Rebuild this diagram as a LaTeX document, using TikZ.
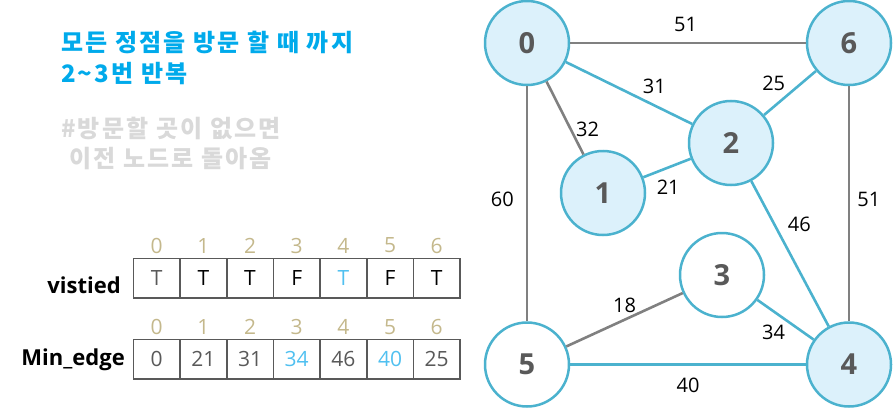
\documentclass[tikz,border=0pt]{standalone}
\usepackage{fontspec}
\setmainfont{Open Sans}
\newfontfamily\kr{Noto Sans CJK KR}[LetterSpace=9]
\usetikzlibrary{positioning}
\usepackage{xcolor}
\definecolor{ringblue}{RGB}{75,178,206}
\definecolor{fillblue}{RGB}{220,241,251}
\definecolor{edgegray}{RGB}{128,128,128}
\definecolor{numgray}{RGB}{89,89,89}
\definecolor{titleblue}{RGB}{0,170,235}
\definecolor{notegray}{RGB}{217,217,217}
\definecolor{idxtan}{RGB}{196,184,140}
\definecolor{hiblue}{RGB}{80,192,240}

\begin{document}
\begin{tikzpicture}[x=1pt,y=-1pt,
  vtx/.style={circle,draw=ringblue,line width=2.5pt,minimum size=84pt,inner sep=0pt,
    font=\fontsize{29}{29}\selectfont\bfseries,text=numgray},
  done/.style={vtx,fill=fillblue},
  todo/.style={vtx,fill=white},
  grayedge/.style={draw=edgegray,line width=2.6pt},
  blueedge/.style={draw=ringblue,line width=2.6pt},
  wt/.style={font=\fontsize{20}{20}\selectfont,inner sep=2pt,text=black},
  cell/.style={draw=numgray,line width=1.6pt,minimum width=46.67pt,minimum height=39.4pt,
    inner sep=0pt,font=\fontsize{21}{21}\selectfont},
  idx/.style={font=\fontsize{21}{21}\selectfont,text=idxtan},
  rowname/.style={font=\fontsize{22}{22}\selectfont\bfseries,inner sep=0pt,anchor=base east}]
\useasboundingbox (0,0) rectangle (896,412);

% notes
\node[anchor=north west,inner sep=0pt,align=left,text=titleblue,
  font=\kr\bfseries\fontsize{24}{31}\selectfont] (goal) at (61,31)
  {모든 정점을 방문 할 때 까지\\2\textasciitilde3번 반복};
\node[anchor=north west,inner sep=0pt,align=left,text=notegray,
  font=\kr\bfseries\fontsize{24}{30}\selectfont] (back) at (61,117)
  {\#방문할 곳이 없으면\\\hspace{8pt}이전 노드로 돌아옴};

% arrays
\foreach \i/\v/\c in {0/T/numgray,1/T/black,2/T/black,3/F/black,4/T/hiblue,5/F/black,6/T/black}{
  \node[cell,text=\c] (v\i) at (156.7+46.67*\i,278) {\v};
  \node[idx] (vi\i) at ([yshift=32.4pt]v\i.center) {\i};
}
\foreach \i/\v/\c in {0/0/numgray,1/21/numgray,2/31/numgray,3/34/hiblue,4/46/numgray,5/40/hiblue,6/25/numgray}{
  \node[cell,text=\c] (m\i) at (156.7+46.67*\i,359.2) {\v};
  \node[idx] (mi\i) at ([yshift=32.4pt]m\i.center) {\i};
}
\node[rowname] (vname) at (121,293) {vistied};
\node[rowname] (mname) at (125,365) {Min\_edge};

% graph
\node[done] (n0) at (527,43) {0};
\node[done] (n6) at (849,43) {6};
\node[done] (n2) at (731,143) {2};
\node[done] (n1) at (603,193) {1};
\node[todo] (n3) at (722,275) {3};
\node[todo] (n5) at (527,364.5) {5};
\node[done] (n4) at (849,364.5) {4};

\draw[grayedge] (n0) -- (n6) node[wt,pos=0.49,above=8pt] {51};
\draw[grayedge] (n0) -- (n1) node[wt,pos=0.66,right=2pt] {32};
\draw[grayedge] (n0) -- (n5) node[wt,pos=0.48,left=10pt] {60};
\draw[grayedge] (n6) -- (n4) node[wt,pos=0.48,right=5pt] {51};
\draw[grayedge] (n5) -- (n3) node[wt,pos=0.5,above=4pt] {18};
\draw[blueedge] (n0) -- (n2) node[wt,pos=0.7,above=8pt] {31};
\draw[blueedge] (n2) -- (n6) node[wt,pos=0.47,above left] {25};
\draw[blueedge] (n1) -- (n2) node[wt,pos=0.17,below right=3pt] {21};
\draw[blueedge] (n2) -- (n4) node[wt,pos=0.3,right=10pt] {46};
\draw[blueedge] (n3) -- (n4) node[wt,pos=0.55,below left] {34};
\draw[blueedge] (n5) -- (n4) node[wt,midway,below=10pt] {40};
\end{tikzpicture}
\end{document}
